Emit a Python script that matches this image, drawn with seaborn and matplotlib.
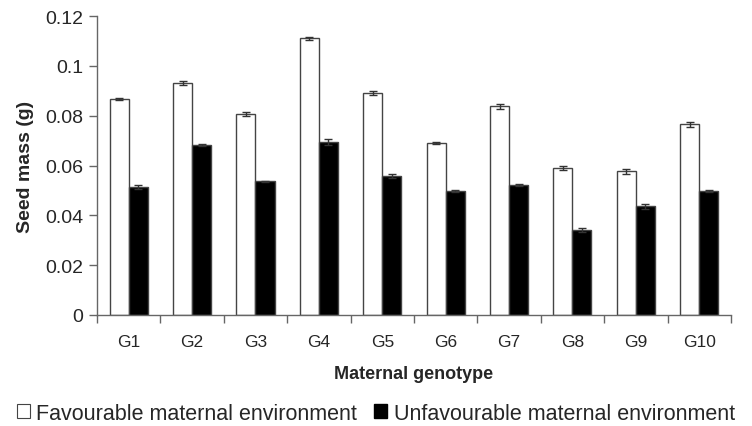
import matplotlib
matplotlib.use("Agg")
import matplotlib.pyplot as plt
import seaborn as sns
import pandas as pd
import numpy as np
from matplotlib.patches import Patch

genotypes = ["G1", "G2", "G3", "G4", "G5", "G6", "G7", "G8", "G9", "G10"]
favourable = [0.0867, 0.0931, 0.0808, 0.1110, 0.0890, 0.0690, 0.0837, 0.0591, 0.0577, 0.0766]
unfavourable = [0.0514, 0.0682, 0.0536, 0.0695, 0.0559, 0.0498, 0.0522, 0.0342, 0.0436, 0.0498]
fav_err = [0.0004, 0.0008, 0.0008, 0.0008, 0.0008, 0.0004, 0.0012, 0.0008, 0.0010, 0.0010]
unf_err = [0.0008, 0.0003, 0.0003, 0.0012, 0.0008, 0.0003, 0.0004, 0.0008, 0.0010, 0.0003]
series = ["Favourable maternal environment", "Unfavourable maternal environment"]

sns.set_style("white")
plt.rcParams["font.family"] = ["Liberation Sans", "DejaVu Sans"]

df = pd.DataFrame({
    "genotype": genotypes * 2,
    "mass": favourable + unfavourable,
    "env": [series[0]] * len(genotypes) + [series[1]] * len(genotypes),
})

fig = plt.figure(figsize=(7.52, 4.27), dpi=100)
ax = fig.add_axes([0.129, 0.26, 0.843, 0.70])

sns.barplot(data=df, x="genotype", y="mass", hue="env", order=genotypes,
            hue_order=series, palette=["white", "black"], width=0.6,
            edgecolor="#444444", linewidth=1.0, errorbar=None, legend=False, ax=ax)

errs = fav_err + unf_err
vals = favourable + unfavourable
for p, v, e in zip(ax.patches[:len(vals)], vals, errs):
    cx = p.get_x() + p.get_width() / 2
    ax.errorbar(cx, v, yerr=[[e], [e]], fmt="none", ecolor="#333333",
                elinewidth=1.0, capsize=3, capthick=1.0)

ax.set_ylim(0, 0.12)
ax.set_xlim(-0.5, len(genotypes) - 0.5)
ax.set_yticks([0, 0.02, 0.04, 0.06, 0.08, 0.1, 0.12])
ax.set_yticklabels(["0", "0.02", "0.04", "0.06", "0.08", "0.1", "0.12"], fontsize=14)
ax.set_xticks(range(len(genotypes)))
ax.set_xticklabels(genotypes, fontsize=12.5)
ax.tick_params(axis="x", length=0, pad=14)
ax.set_xticks(np.arange(-0.5, len(genotypes)), minor=True)
ax.tick_params(axis="x", which="minor", length=6, width=1, color="#666666", direction="out", bottom=True)
ax.tick_params(axis="y", length=6, width=1, color="#666666", direction="out", left=True, pad=4)

for s in ["top", "right"]:
    ax.spines[s].set_visible(False)
for s in ["left", "bottom"]:
    ax.spines[s].set_color("#666666")
    ax.spines[s].set_linewidth(1.0)

ax.set_xlabel("Maternal genotype", fontsize=13, fontweight="bold", labelpad=11)
ax.set_ylabel("Seed mass (g)", fontsize=14, fontweight="bold", labelpad=8)

handles = [Patch(facecolor="white", edgecolor="#444444", linewidth=0.8),
           Patch(facecolor="black", edgecolor="black")]
fig.legend(handles, series, loc="center", bbox_to_anchor=(0.5, 0.03), ncol=2,
           frameon=False, fontsize=15.5, handlelength=0.6, handleheight=0.6,
           handletextpad=0.3, columnspacing=0.8)

fig.savefig("out.png", dpi=100)
